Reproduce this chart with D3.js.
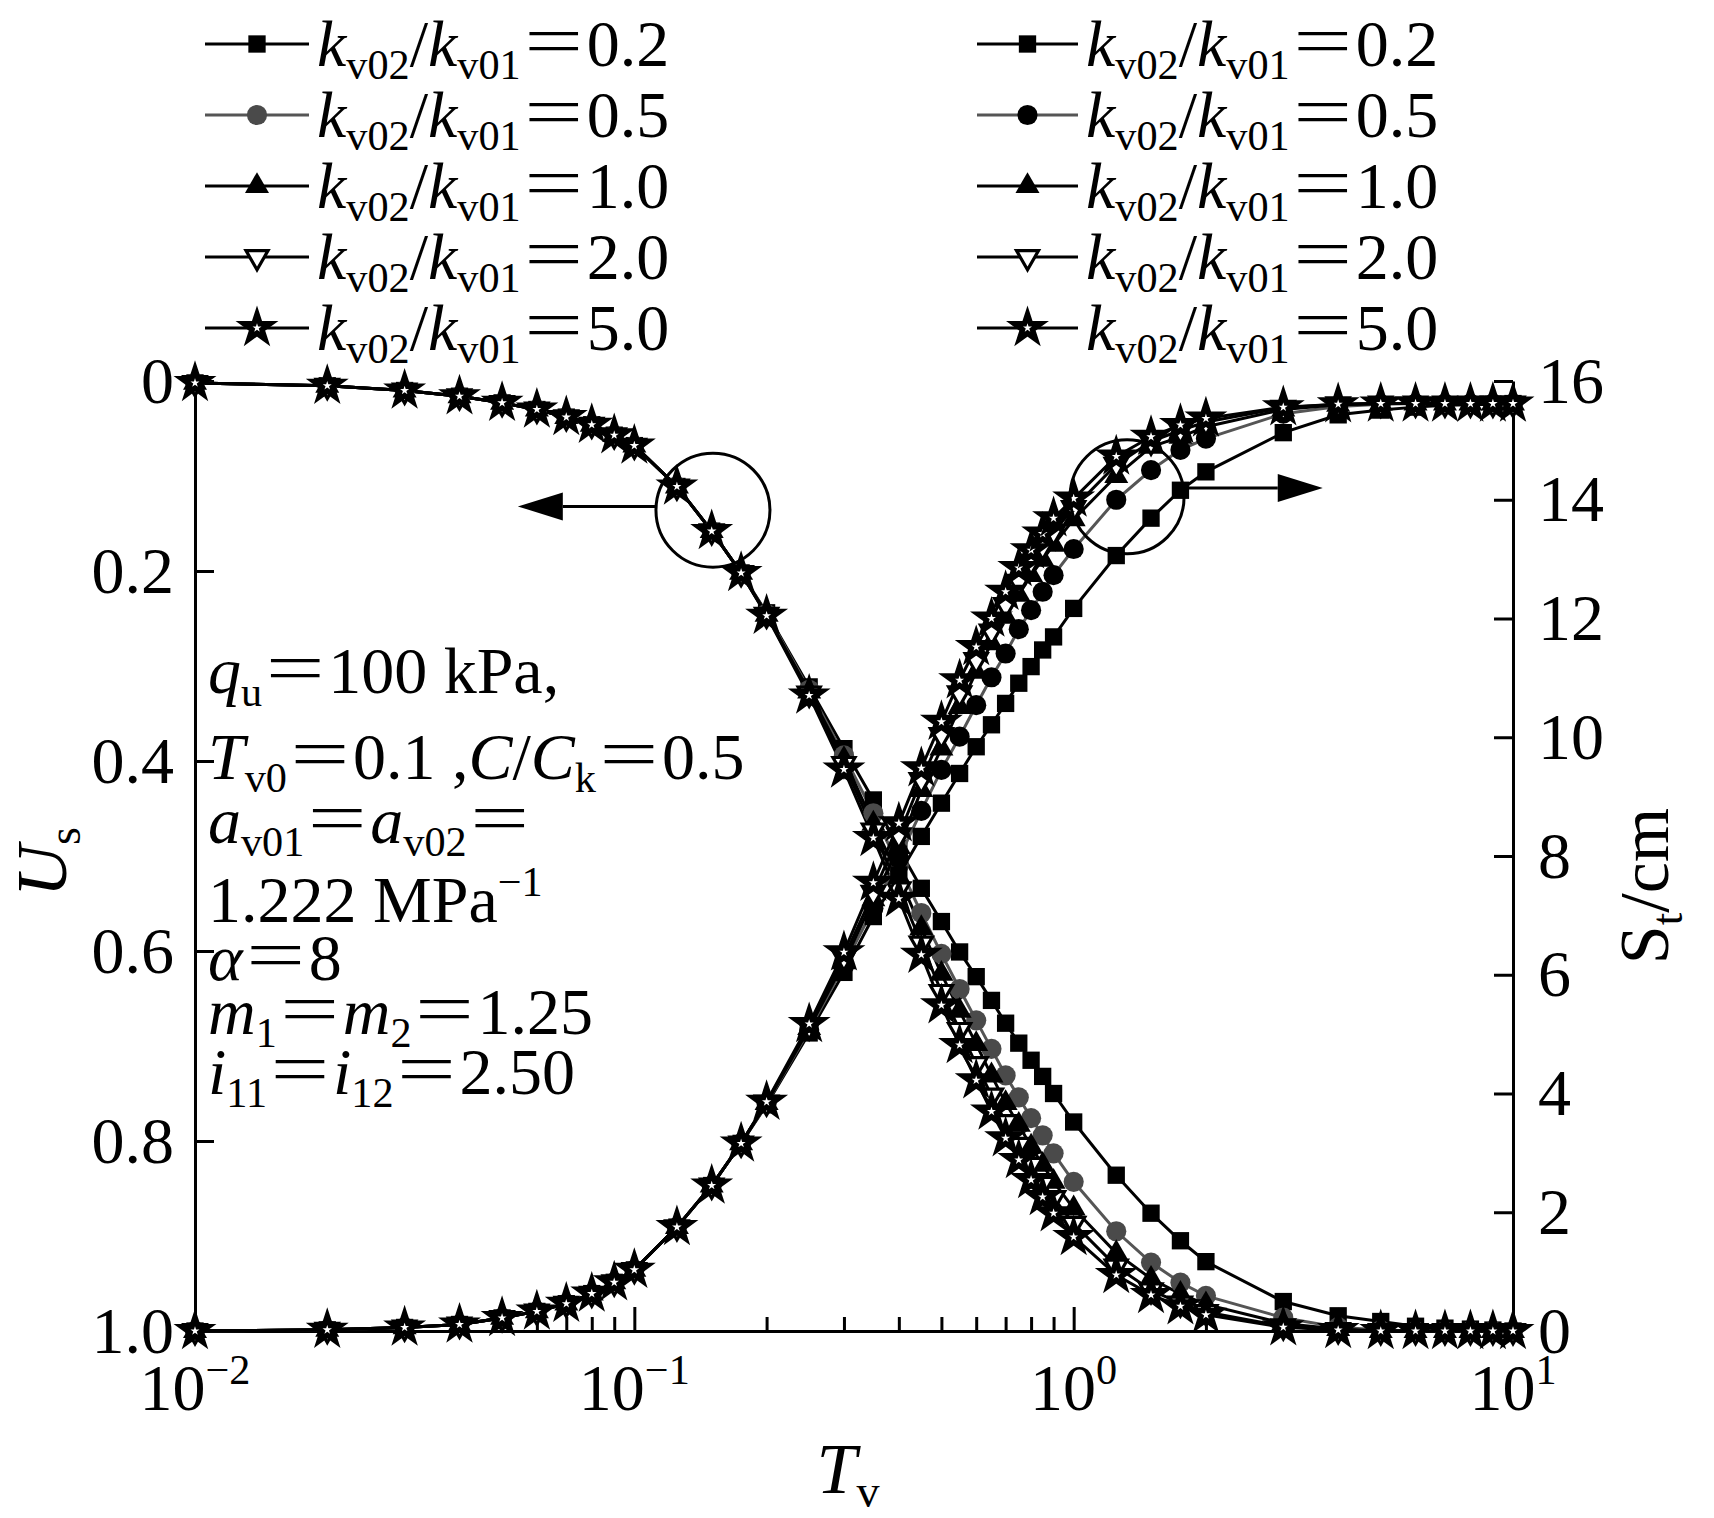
<!doctype html>
<html lang="en">

<head>
  <meta charset="utf-8">
  <title>Us and St vs Tv - D3</title>
  <style>
    body { margin: 0; background: #fff; }
    svg { display: block; }
    text { font-family: "Liberation Serif", "DejaVu Serif", serif; fill: #000; }
  </style>
</head>

<body>
  <svg width="1714" height="1518"></svg>

  <script src="https://cdn.jsdelivr.net/npm/d3@7"></script>
  <script>
    // time factor Tv (x axis, log)
    var tv = [0.01, 0.02, 0.03, 0.04, 0.05, 0.06, 0.07, 0.08, 0.09, 0.1,
      0.125, 0.15, 0.175, 0.2, 0.25, 0.3, 0.35, 0.4, 0.45, 0.5, 0.55, 0.6, 0.65, 0.7, 0.75,
      0.8, 0.85, 0.9, 1.0, 1.25, 1.5, 1.75, 2.0, 3, 4, 5, 6, 7, 8, 9, 10];
    var ratios = ['0.2', '0.5', '1.0', '2.0', '5.0'];

    // Us (left axis, reversed)
    var us02 = [0.002, 0.005, 0.010, 0.016, 0.023, 0.030, 0.038, 0.046, 0.057, 0.068, 0.111, 0.158, 0.202, 0.244,
      0.322, 0.387, 0.441, 0.492, 0.534, 0.569, 0.601, 0.627, 0.652, 0.676, 0.697, 0.715, 0.732, 0.750, 0.780,
      0.836, 0.876, 0.905, 0.927, 0.969, 0.984, 0.990, 0.995, 0.997, 0.998, 0.999, 1.000];
    var us05 = [0.002, 0.005, 0.010, 0.016, 0.023, 0.030, 0.038, 0.046, 0.057, 0.068, 0.111, 0.158, 0.202, 0.245,
      0.325, 0.394, 0.455, 0.510, 0.560, 0.603, 0.640, 0.673, 0.703, 0.731, 0.754, 0.776, 0.794, 0.813, 0.843,
      0.895, 0.928, 0.949, 0.963, 0.986, 0.996, 0.999, 1.000, 1.000, 1.000, 1.000, 1.000];
    var us10 = [0.002, 0.005, 0.010, 0.016, 0.023, 0.030, 0.038, 0.046, 0.057, 0.068, 0.111, 0.158, 0.202, 0.246,
      0.327, 0.398, 0.466, 0.522, 0.576, 0.624, 0.663, 0.698, 0.731, 0.760, 0.783, 0.806, 0.825, 0.843, 0.871,
      0.918, 0.945, 0.961, 0.972, 0.992, 0.998, 1.000, 1.000, 1.000, 1.000, 1.000, 1.000];
    var us20 = [0.002, 0.005, 0.010, 0.016, 0.023, 0.030, 0.038, 0.046, 0.057, 0.068, 0.111, 0.158, 0.202, 0.246,
      0.329, 0.403, 0.473, 0.535, 0.592, 0.643, 0.683, 0.719, 0.752, 0.780, 0.804, 0.825, 0.845, 0.860, 0.887,
      0.932, 0.957, 0.971, 0.980, 0.995, 0.999, 1.000, 1.000, 1.000, 1.000, 1.000, 1.000];
    var us50 = [0.002, 0.005, 0.010, 0.016, 0.023, 0.030, 0.038, 0.046, 0.057, 0.068, 0.111, 0.158, 0.202, 0.247,
      0.331, 0.409, 0.481, 0.545, 0.604, 0.657, 0.699, 0.736, 0.769, 0.797, 0.820, 0.841, 0.859, 0.876, 0.901,
      0.941, 0.962, 0.974, 0.983, 0.996, 0.999, 1.000, 1.000, 1.000, 1.000, 1.000, 1.000];

    // St in cm (right axis)
    var st02 = [0.00, 0.02, 0.06, 0.11, 0.22, 0.33, 0.46, 0.63, 0.82, 1.03, 1.75, 2.45, 3.16, 3.81,
      5.02, 6.04, 6.98, 7.68, 8.33, 8.89, 9.39, 9.84, 10.21, 10.57, 10.91, 11.19, 11.47, 11.69, 12.17,
      13.06, 13.69, 14.16, 14.47, 15.13, 15.43, 15.51, 15.56, 15.59, 15.60, 15.61, 15.62];
    var st05 = [0.00, 0.02, 0.06, 0.11, 0.22, 0.33, 0.46, 0.63, 0.82, 1.03, 1.75, 2.45, 3.16, 3.83,
      5.07, 6.15, 7.12, 7.96, 8.76, 9.45, 10.01, 10.54, 11.01, 11.41, 11.82, 12.14, 12.45, 12.73, 13.17,
      14.00, 14.50, 14.84, 15.03, 15.45, 15.57, 15.61, 15.62, 15.62, 15.62, 15.62, 15.62];
    var st10 = [0.00, 0.02, 0.06, 0.11, 0.22, 0.33, 0.46, 0.63, 0.82, 1.03, 1.75, 2.45, 3.16, 3.84,
      5.10, 6.21, 7.27, 8.15, 9.11, 9.81, 10.51, 11.10, 11.58, 12.03, 12.40, 12.73, 12.99, 13.24, 13.67,
      14.40, 14.89, 15.06, 15.23, 15.52, 15.60, 15.62, 15.62, 15.62, 15.62, 15.62, 15.62];
    var st20 = [0.00, 0.02, 0.06, 0.11, 0.22, 0.33, 0.46, 0.63, 0.82, 1.03, 1.75, 2.45, 3.16, 3.85,
      5.13, 6.29, 7.38, 8.35, 9.28, 10.04, 10.74, 11.30, 11.78, 12.23, 12.62, 12.96, 13.21, 13.46, 13.86,
      14.59, 14.98, 15.17, 15.31, 15.55, 15.61, 15.62, 15.62, 15.62, 15.62, 15.62, 15.62];
    var st50 = [0.00, 0.02, 0.06, 0.11, 0.22, 0.33, 0.46, 0.63, 0.82, 1.03, 1.75, 2.45, 3.16, 3.86,
      5.17, 6.38, 7.55, 8.55, 9.48, 10.26, 10.96, 11.52, 12.00, 12.45, 12.85, 13.15, 13.43, 13.69, 14.02,
      14.73, 15.06, 15.26, 15.37, 15.56, 15.61, 15.62, 15.62, 15.62, 15.62, 15.62, 15.62];

    var usTicks = [0, 0.2, 0.4, 0.6, 0.8, 1.0];
    var stTicks = [0, 2, 4, 6, 8, 10, 12, 14, 16];
    var tvMajor = [0.01, 0.1, 1, 10];
    var tvExp = ['\u22122', '\u22121', '0', '1'];

    var usSeries = [us02, us05, us10, us20, us50];
    var stSeries = [st02, st05, st10, st20, st50];

    // marker / line look per ratio
    var symTypes = [d3.symbolSquare, d3.symbolCircle, d3.symbolTriangle, d3.symbolTriangle, d3.symbolStar];
    var symSizes = [300, 320, 250, 210, 210];
    var symFill = { L: ['#000', '#4a4a4a', '#000', '#fff', '#fff'], R: ['#000', '#000', '#000', '#fff', '#fff'] };
    var lineColor = ['#000', '#555', '#000', '#000', '#000'];
    var FS = 66;
    var SERIF = '"Liberation Serif", "DejaVu Serif", serif';
    var EQ = '"Noto Sans CJK SC", "Noto Sans", sans-serif';

    var svg = d3.select('svg');
    svg.append('rect').attr('width', 1714).attr('height', 1518).attr('fill', '#fff');

    var x = d3.scaleLog().domain([0.01, 10]).range([195, 1513]);
    var yL = d3.scaleLinear().domain([0, 1]).range([381, 1331]);
    var yR = d3.scaleLinear().domain([0, 16]).range([1331, 381]);

    // text with italic / sub / sup pieces; '=' gets the wide full-width sign
    function richText(t, parts, size) {
      var shift = 0;
      var pieces = [];
      parts.forEach(function (p) {
        String(p[0]).split(/(=)/).forEach(function (s) {
          if (s !== '') pieces.push([s, s === '=' ? 'eq' : (p[1] || '')]);
        });
      });
      pieces.forEach(function (p) {
        var kind = p[1];
        var target = kind === 'sub' ? 0.2 * size : (kind === 'sup' ? -0.4 * size : 0);
        var s = t.append('tspan').attr('dy', target - shift).attr('font-family', SERIF);
        shift = target;
        if (kind === 'eq') s.text('\uFF1D').attr('font-family', EQ).attr('font-weight', 300);
        else s.text(p[0]);
        if (kind === 'sub' || kind === 'sup') s.attr('font-size', 0.64 * size);
        if (kind === 'i') s.attr('font-style', 'italic');
      });
      return t;
    }

    function marker(g, i, side, px, py) {
      var p = g.append('path')
        .attr('d', d3.symbol().type(symTypes[i]).size(symSizes[i]))
        .attr('transform', 'translate(' + px + ',' + py + ')' + (i === 3 ? ' rotate(180)' : ''))
        .attr('fill', symFill[side][i]);
      if (i >= 3) p.attr('stroke', '#000').attr('stroke-width', i === 4 ? 5.5 : 3.2);
      return p;
    }

    // axes
    function styleAxis(g) {
      g.selectAll('path, line').attr('stroke', '#000').attr('stroke-width', 3);
      g.selectAll('text').attr('font-size', FS).attr('font-family', SERIF).attr('fill', '#000');
    }

    svg.append('g').attr('transform', 'translate(0,1331)')
      .call(d3.axisBottom(x).tickValues(tvMajor).tickSize(-24).tickSizeOuter(0).tickFormat(''))
      .call(styleAxis);
    var minors = [];
    [0.01, 0.1, 1].forEach(function (d) { for (var k = 2; k <= 9; k++) minors.push(d * k); });
    svg.append('g').attr('transform', 'translate(0,1331)')
      .call(d3.axisBottom(x).tickValues(minors).tickSize(-14).tickSizeOuter(0).tickFormat(''))
      .call(styleAxis)
      .select('.domain').remove();

    svg.append('g').attr('transform', 'translate(195,0)')
      .call(d3.axisLeft(yL).tickValues(usTicks).tickSize(-19).tickSizeOuter(0).tickPadding(21)
        .tickFormat(function (d) { return d === 0 ? '0' : d3.format('.1f')(d); }))
      .call(styleAxis);

    svg.append('g').attr('transform', 'translate(1513,0)')
      .call(d3.axisRight(yR).tickValues(stTicks).tickSize(-19).tickSizeOuter(0).tickPadding(25))
      .call(styleAxis);

    // log tick labels 10^n
    tvMajor.forEach(function (d, i) {
      richText(svg.append('text').attr('x', x(d)).attr('y', 1410).attr('text-anchor', 'middle').attr('font-size', FS),
        [['10'], [tvExp[i], 'sup']], FS);
    });

    // axis titles
    richText(svg.append('text').attr('text-anchor', 'middle').attr('font-size', 72)
      .attr('transform', 'translate(66,862) rotate(-90)'), [['U', 'i'], ['s', 'sub']], 72);
    richText(svg.append('text').attr('text-anchor', 'middle').attr('font-size', 70)
      .attr('transform', 'translate(1668,886) rotate(-90)'), [['S'], ['t', 'sub'], ['/cm']], 70);
    richText(svg.append('text').attr('x', 848).attr('y', 1493).attr('text-anchor', 'middle').attr('font-size', 72),
      [['T', 'i'], ['v', 'sub']], 72);

    // curves
    var plot = svg.append('g');
    function drawSet(series, y, side) {
      series.forEach(function (vals, i) {
        var pts = tv.map(function (t, j) { return [t, vals[j]]; });
        plot.append('path').datum(pts)
          .attr('fill', 'none').attr('stroke', lineColor[i]).attr('stroke-width', 3)
          .attr('d', d3.line().x(function (d) { return x(d[0]); }).y(function (d) { return y(d[1]); }));
      });
      series.forEach(function (vals, i) {
        tv.forEach(function (t, j) { marker(plot, i, side, x(t), y(vals[j])); });
      });
    }
    drawSet(usSeries, yL, 'L');
    drawSet(stSeries, yR, 'R');

    // legends
    var legendCols = [{ side: 'L', x0: 205, x1: 309, tx: 317 }, { side: 'R', x0: 977, x1: 1078, tx: 1086 }];
    legendCols.forEach(function (c) {
      ratios.forEach(function (r, i) {
        var cy = 44 + 71 * i;
        svg.append('line').attr('x1', c.x0).attr('x2', c.x1).attr('y1', cy).attr('y2', cy)
          .attr('stroke', lineColor[i]).attr('stroke-width', 3);
        marker(svg, i, c.side, (c.x0 + c.x1) / 2, cy);
        richText(svg.append('text').attr('x', c.tx).attr('y', cy + 22).attr('font-size', FS),
          [['k', 'i'], ['v02', 'sub'], ['/'], ['k', 'i'], ['v01', 'sub'], ['='], [r]], FS);
      });
    });

    // parameter note
    var notes = [
      [['q', 'i'], ['u', 'sub'], ['=100 kPa,']],
      [['T', 'i'], ['v0', 'sub'], ['=0.1 ,'], ['C', 'i'], ['/'], ['C', 'i'], ['k', 'sub'], ['=0.5']],
      [['a', 'i'], ['v01', 'sub'], ['='], ['a', 'i'], ['v02', 'sub'], ['=']],
      [['1.222 MPa'], ['\u22121', 'sup']],
      [['\u03B1', 'i'], ['=8']],
      [['m', 'i'], ['1', 'sub'], ['='], ['m', 'i'], ['2', 'sub'], ['=1.25']],
      [['i', 'i'], ['11', 'sub'], ['='], ['i', 'i'], ['12', 'sub'], ['=2.50']]
    ];
    var noteY = [693, 779, 843, 922, 980, 1034, 1094];
    notes.forEach(function (n, i) {
      richText(svg.append('text').attr('x', 208).attr('y', noteY[i]).attr('font-size', FS), n, FS);
    });

    // circled groups with arrows pointing at their axis
    var callouts = [
      { t: 0.151, v: 0.136, y: yL, a0: 0.112, a1: 0.0543, av: 0.132, dir: -1 },
      { t: 1.323, v: 14.05, y: yR, a0: 1.774, a1: 3.69, av: 14.2, dir: 1 }
    ];
    callouts.forEach(function (c) {
      svg.append('circle').attr('cx', x(c.t)).attr('cy', c.y(c.v)).attr('r', 57)
        .attr('fill', 'none').attr('stroke', '#000').attr('stroke-width', 3);
      var ay = c.y(c.av), tip = x(c.a1), base = tip - c.dir * 45;
      svg.append('line').attr('x1', x(c.a0)).attr('x2', base).attr('y1', ay).attr('y2', ay)
        .attr('stroke', '#000').attr('stroke-width', 3);
      svg.append('path').attr('d', 'M' + tip + ',' + ay + 'L' + base + ',' + (ay - 14) + 'L' + base + ',' + (ay + 14) + 'Z')
        .attr('fill', '#000');
    });
  </script>
</body>

</html>
